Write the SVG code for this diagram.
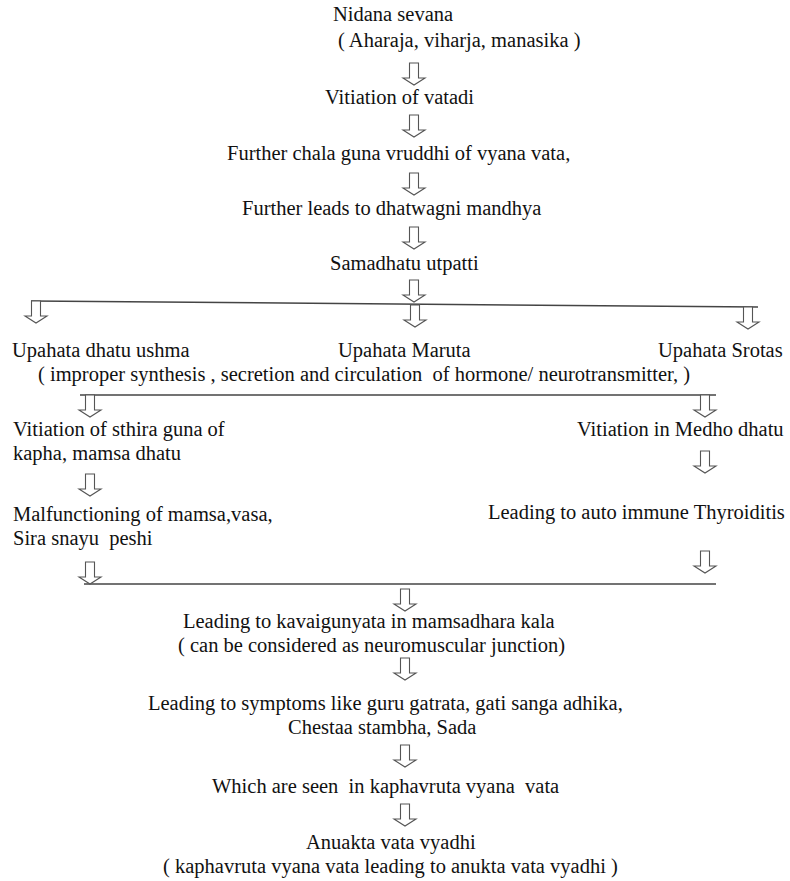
<svg xmlns="http://www.w3.org/2000/svg" xmlns:xlink="http://www.w3.org/1999/xlink" width="790" height="881" viewBox="0 0 790 881">
<style>
text{font-family:"Liberation Serif","Times New Roman",serif;font-size:20.5px;fill:#111}
.pre{white-space:pre}
.ln{stroke:#444;stroke-width:1.5;fill:none}
.arr{fill:#fff;stroke:#555;stroke-width:1.1;stroke-linejoin:miter}
</style>
<defs>
<path id="ar" class="arr" d="M-4.5,0 H4.5 V15 H11 L0,22 L-11,15 H-4.5 Z"/>
</defs>
<g id="connectors">
<line class="ln" x1="31" y1="301" x2="758" y2="307"/>
<line class="ln" x1="80" y1="395" x2="716" y2="395"/>
<line class="ln" x1="84" y1="584" x2="716" y2="584"/>
<use xlink:href="#ar" x="414" y="63"/>
<use xlink:href="#ar" x="414" y="115"/>
<use xlink:href="#ar" x="414" y="173"/>
<use xlink:href="#ar" x="414" y="227"/>
<use xlink:href="#ar" x="414" y="280"/>
<use xlink:href="#ar" x="36" y="301"/>
<use xlink:href="#ar" x="415" y="305"/>
<use xlink:href="#ar" x="748" y="307"/>
<use xlink:href="#ar" x="90" y="395"/>
<use xlink:href="#ar" x="705" y="395"/>
<use xlink:href="#ar" x="90" y="474"/>
<use xlink:href="#ar" x="705" y="451"/>
<use xlink:href="#ar" x="90" y="562"/>
<use xlink:href="#ar" x="705" y="551"/>
<use xlink:href="#ar" x="405" y="589"/>
<use xlink:href="#ar" x="405" y="658"/>
<use xlink:href="#ar" x="405" y="745"/>
<use xlink:href="#ar" x="405" y="804"/>
</g>
<g id="n1"><text x="333" y="21">Nidana sevana</text><text x="338" y="47">( Aharaja, viharja, manasika )</text></g>
<g id="n2"><text x="325" y="104">Vitiation of vatadi</text></g>
<g id="n3"><text x="227" y="160">Further chala guna vruddhi of vyana vata,</text></g>
<g id="n4"><text x="242" y="215">Further leads to dhatwagni mandhya</text></g>
<g id="n5"><text x="330" y="270">Samadhatu utpatti</text></g>
<g id="n6"><text x="12" y="357">Upahata dhatu ushma</text></g>
<g id="n7"><text x="338" y="357">Upahata Maruta</text></g>
<g id="n8"><text x="658" y="357">Upahata Srotas</text></g>
<g id="n9"><text class="pre" x="38" y="381">( improper synthesis , secretion and circulation  of hormone/ neurotransmitter, )</text></g>
<g id="n10"><text x="13" y="436">Vitiation of sthira guna of</text><text x="13" y="460">kapha, mamsa dhatu</text></g>
<g id="n11"><text x="577" y="436">Vitiation in Medho dhatu</text></g>
<g id="n12"><text x="13" y="521">Malfunctioning of mamsa,vasa,</text><text class="pre" x="13" y="545">Sira snayu  peshi</text></g>
<g id="n13"><text x="488" y="519">Leading to auto immune Thyroiditis</text></g>
<g id="n14"><text x="183" y="628">Leading to kavaigunyata in mamsadhara kala</text><text x="178" y="652">( can be considered as neuromuscular junction)</text></g>
<g id="n15"><text x="148" y="710">Leading to symptoms like guru gatrata, gati sanga adhika,</text><text x="288" y="734">Chestaa stambha, Sada</text></g>
<g id="n16"><text class="pre" x="212" y="793">Which are seen  in kaphavruta vyana  vata</text></g>
<g id="n17"><text x="306" y="849">Anuakta vata vyadhi</text><text x="163" y="873">( kaphavruta vyana vata leading to anukta vata vyadhi )</text></g>
</svg>
